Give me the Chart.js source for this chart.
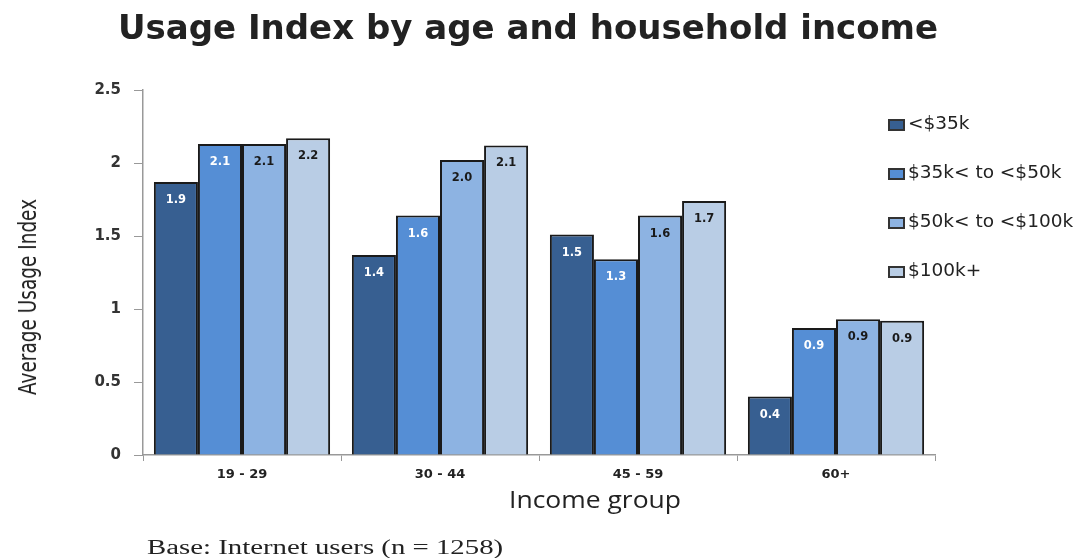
<!DOCTYPE html>
<html lang="en">
<head>
    <meta charset="UTF-8">
    <title>Usage Index</title>
    <script src="https://cdn.jsdelivr.net/npm/chart.js"></script>
    <style>
        body { margin: 0; background: #fff; }
        .wrap { position: relative; width: 1076px; height: 558px; overflow: hidden; }
        .title { position: absolute; left: 0; width: 1056px; top: 7px; text-align: center; font-family: "DejaVu Sans", Verdana, sans-serif; font-weight: bold; font-size: 34px; color: #222; }
        .legend { position: absolute; left: 888px; top: 112px; font-family: "DejaVu Sans", Verdana, sans-serif; font-size: 18.5px; color: #222; }
        .legend div { height: 49px; display: flex; align-items: flex-start; white-space: nowrap; }
        .legend span.box { display: inline-block; width: 13px; height: 8px; border: 2px solid #333; margin-right: 3px; margin-top: 7px; }
        .ytitle { position: absolute; left: 28px; top: 297px; transform: translate(-50%, -50%) rotate(-90deg) scaleX(0.77); white-space: nowrap; font-family: "DejaVu Sans", sans-serif; font-size: 24px; color: #222; }
        .xtitle { position: absolute; left: 595px; top: 499px; transform: translate(-50%, -50%) scaleX(1.15); white-space: nowrap; font-family: "Open Sans", sans-serif; font-size: 23px; color: #222; }
        .note { position: absolute; left: 147px; top: 536px; transform-origin: left top; transform: scaleX(1.44); white-space: nowrap; font-family: "Liberation Serif", serif; font-size: 20px; color: #222; }
    </style>
</head>
<body>
    <div class="wrap">
        <canvas id="chart" width="1076" height="558"></canvas>
        <div class="title">Usage Index by age and household income</div>
        <div class="legend" id="legend"></div>
        <div class="ytitle">Average Usage Index</div>
        <div class="xtitle">Income group</div>
        <div class="note">Base: Internet users (n = 1258)</div>
    </div>

    <script>
        const ageGroups = ['19 - 29', '30 - 44', '45 - 59', '60+'];
        const incomeLabels = ['<$35k', '$35k< to <$50k', '$50k< to <$100k', '$100k+'];
        const under35 = [1.87, 1.37, 1.51, 0.40];
        const from35to50 = [2.13, 1.64, 1.34, 0.87];
        const from50to100 = [2.13, 2.02, 1.64, 0.93];
        const over100 = [2.17, 2.12, 1.74, 0.92];
        const barColors = ['#375F91', '#558ED5', '#8DB3E2', '#B9CDE5'];
        const labelColors = ['#ffffff', '#ffffff', '#1a1a1a', '#1a1a1a'];
        const yTicks = [0, 0.5, 1, 1.5, 2, 2.5];

        const seriesValues = [under35, from35to50, from50to100, over100];

        // value labels inside the top of each bar
        const barLabels = {
            id: 'barLabels',
            afterDatasetsDraw(chart) {
                const ctx = chart.ctx;
                ctx.save();
                ctx.font = 'bold 11.5px "DejaVu Sans", Verdana, sans-serif';
                ctx.textAlign = 'center';
                ctx.textBaseline = 'middle';
                chart.data.datasets.forEach((ds, i) => {
                    chart.getDatasetMeta(i).data.forEach((bar, j) => {
                        ctx.fillStyle = labelColors[i];
                        ctx.fillText(ds.data[j].toFixed(1), bar.x, bar.y + 18);
                    });
                });
                ctx.restore();
            }
        };

        new Chart(document.getElementById('chart'), {
            type: 'bar',
            data: {
                labels: ageGroups,
                datasets: seriesValues.map((vals, i) => ({
                    label: incomeLabels[i],
                    data: vals,
                    backgroundColor: barColors[i],
                    borderColor: '#1a1a1a',
                    borderWidth: 2,
                    categoryPercentage: 0.89,
                    barPercentage: 1
                }))
            },
            options: {
                responsive: false,
                animation: false,
                layout: { padding: { left: 0, right: 141, top: 90, bottom: 0 } },
                plugins: {
                    legend: { display: false },
                    tooltip: { enabled: false }
                },
                scales: {
                    x: {
                        grid: { drawOnChartArea: false, drawTicks: true, tickLength: 6, color: '#999', offset: true },
                        border: { color: '#999', width: 1.5 },
                        ticks: { color: '#222', padding: 6, font: { family: '"DejaVu Sans", Verdana, sans-serif', size: 13, weight: 'bold' } },
                        afterFit(scale) { scale.height = 103; }
                    },
                    y: {
                        min: 0,
                        max: 2.5,
                        afterBuildTicks(scale) { scale.ticks = yTicks.map(v => ({ value: v })); },
                        grid: { drawOnChartArea: false, drawTicks: true, tickLength: 9, color: '#999' },
                        border: { color: '#999', width: 1.5 },
                        ticks: {
                            color: '#333',
                            padding: 13,
                            font: { family: '"DejaVu Sans", Verdana, sans-serif', size: 15, weight: 'bold' },
                            callback: v => String(v)
                        },
                        afterFit(scale) { scale.width = 143; }
                    }
                }
            },
            plugins: [barLabels]
        });

        const legendEl = document.getElementById('legend');
        legendEl.innerHTML = incomeLabels.map((lab, i) =>
            `<div><span class="box" style="background:${barColors[i]}"></span>${lab.replace(/</g, '&lt;')}</div>`
        ).join('');
    </script>
</body>
</html>
